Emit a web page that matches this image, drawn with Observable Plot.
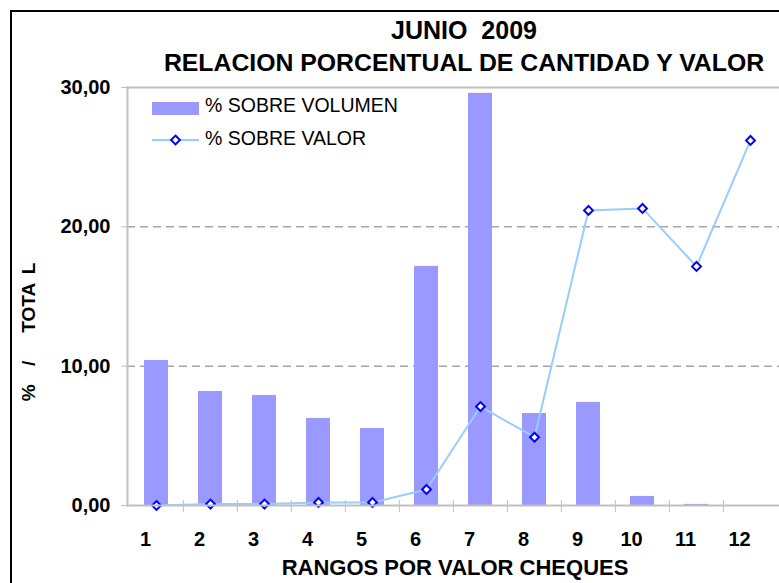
<!DOCTYPE html>
<html>
<head>
<meta charset="utf-8">
<script src="https://cdn.jsdelivr.net/npm/d3@7"></script>
<script src="https://cdn.jsdelivr.net/npm/@observablehq/plot@0.6"></script>
<style>
  html, body { margin: 0; padding: 0; background: #fff; overflow: hidden; }
  body { width: 779px; height: 583px; position: relative; font-family: "Liberation Sans", Arial, sans-serif; }
  #frame { position: absolute; left: 10px; top: 10px; width: 900px; height: 700px; border-left: 2px solid #000; border-top: 2px solid #000; box-sizing: border-box; }
  #chart { position: absolute; left: 0; top: 0; }
  .t { position: absolute; font-weight: bold; color: #000; white-space: pre; line-height: 1; }
  .leg { position: absolute; font-size: 19.5px; color: #000; white-space: pre; line-height: 1; }
</style>
</head>
<body>
<div id="frame"></div>
<div id="chart"></div>
<script>
const categories = [1, 2, 3, 4, 5, 6, 7, 8, 9, 10, 11, 12];
const volumen = [10.41, 8.18, 7.90, 6.25, 5.53, 17.16, 29.58, 6.60, 7.40, 0.65, 0.08, 0.00];
const valor = [0.00, 0.10, 0.10, 0.22, 0.22, 1.15, 7.10, 4.90, 21.18, 21.32, 17.16, 26.20];
const yTicks = [0, 10, 20, 30];
const title1 = "JUNIO  2009";
const title2 = "RELACION PORCENTUAL DE CANTIDAD Y VALOR";
const xTitle = "RANGOS POR VALOR CHEQUES";
const yTitle = "%  /   TOTA L";
const seriesNames = ["% SOBRE VOLUMEN", "% SOBRE VALOR"];

const data = categories.map((c, i) => ({cat: c, vol: volumen[i], val: valor[i]}));
const fmt = d => d.toFixed(2).replace(".", ",");

const plot = Plot.plot({
  width: 779,
  height: 583,
  marginLeft: 127,
  marginTop: 87,
  marginRight: 0,
  marginBottom: 78,
  style: {fontFamily: "'Liberation Sans', Arial, sans-serif", background: "transparent", overflow: "visible"},
  x: {type: "band", domain: categories, padding: 0, label: null},
  y: {domain: [0, 30], label: null},
  marks: [
    Plot.ruleY([10, 20], {stroke: "#a6a6a6", strokeWidth: 1.5, strokeDasharray: "8,5"}),
    Plot.ruleY([30], {stroke: "#c0c0c0", strokeWidth: 2}),
    Plot.barY(data, {x: "cat", y: "vol", fill: "#9999FF", insetLeft: 15, insetRight: 15}),
    Plot.line(data, {x: "cat", y: "val", stroke: "#99CCFF", strokeWidth: 2}),
    Plot.dot(data, {x: "cat", y: "val", symbol: "diamond2", r: 4, stroke: "#0000FF", strokeWidth: 2, fill: "#fff"}),
    Plot.ruleY([0], {stroke: "#c0c0c0", strokeWidth: 2}),
    Plot.frame({anchor: "left", stroke: "#c0c0c0", strokeWidth: 2}),
    Plot.axisY({ticks: yTicks, tickFormat: fmt, tickSize: 6, tickPadding: 11, stroke: "#c0c0c0", fontSize: 20, fontWeight: "bold", fill: "#000", label: null}),
    Plot.axisX({ticks: categories.slice(1), tickSize: 12, dy: -5, dx: -(652 / 12) / 2, tickFormat: () => "", stroke: "#c0c0c0", label: null}),
    Plot.axisX({tickSize: 0, tickPadding: 26, dx: -11, fontSize: 20, fontWeight: "bold", fill: "#000", label: null})
  ]
});
document.getElementById("chart").appendChild(plot);

function addText(cls, txt, style) {
  const d = document.createElement("div");
  d.className = cls;
  d.textContent = txt;
  Object.assign(d.style, style);
  document.body.appendChild(d);
  return d;
}
// titles (centered at x≈464)
addText("t", title1, {left: "264px", width: "400px", textAlign: "center", top: "18px", fontSize: "25px"});
addText("t", title2, {left: "64px", width: "800px", textAlign: "center", top: "51px", fontSize: "24.8px"});
addText("t", xTitle, {left: "155px", width: "600px", textAlign: "center", top: "557px", fontSize: "22px"});
addText("t", yTitle, {left: "28px", top: "332px", fontSize: "19px", wordSpacing: "4px", transform: "translate(-50%,-50%) rotate(-90deg)"});

// legend
const legSvg = d3.select("body").append("svg")
  .attr("width", 60).attr("height", 60)
  .style("position", "absolute").style("left", "150px").style("top", "95px");
legSvg.append("rect").attr("x", 2).attr("y", 7).attr("width", 47).attr("height", 13).attr("fill", "#9999FF");
legSvg.append("line").attr("x1", 2).attr("x2", 49).attr("y1", 45).attr("y2", 45).attr("stroke", "#99CCFF").attr("stroke-width", 2);
legSvg.append("path").attr("d", d3.symbol(d3.symbolDiamond2, 50)()).attr("transform", "translate(25.5,45)")
  .attr("fill", "#fff").attr("stroke", "#0000FF").attr("stroke-width", 2);
addText("leg", seriesNames[0], {left: "205px", top: "96px"});
addText("leg", seriesNames[1], {left: "205px", top: "129px"});
</script>
</body>
</html>
